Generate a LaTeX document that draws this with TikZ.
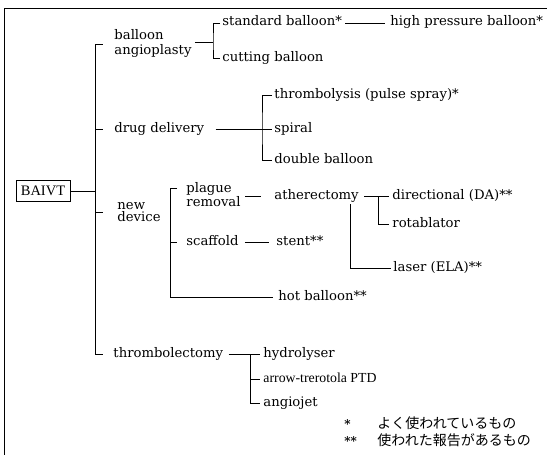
\documentclass[tikz,border=0pt]{standalone}
\usepackage{fontspec}
\setmainfont{DejaVu Serif}
\newfontfamily\jpfont{Noto Sans CJK JP}
\newfontfamily\timesf{Liberation Serif}
\begin{document}
\begin{tikzpicture}[x=1pt,y=-1pt,line width=0.9pt,
  lbl/.style={anchor=west,inner sep=0pt,text height=9pt,text depth=3pt,font=\fontsize{13.2}{15}\selectfont},
  two/.style={anchor=west,inner sep=0pt,align=left,font=\fontsize{13.2}{15}\selectfont},
  tight/.style={anchor=west,inner sep=0pt,align=left,font=\fontsize{13.2}{12.5}\selectfont},
  rootbox/.style={draw,minimum width=54pt,minimum height=21pt,inner sep=0pt,font=\timesf\fontsize{14.5}{16}\selectfont},
  tnr/.style={lbl,font=\timesf\fontsize{13.8}{15}\selectfont},
  jp/.style={anchor=west,inner sep=0pt,font=\jpfont\fontsize{14}{16}\selectfont},
  star/.style={anchor=west,inner sep=0pt,font=\bfseries\fontsize{12}{14}\selectfont}]
\useasboundingbox (0,0) rectangle (547,455);
% frame (top and left edges)
\draw (4,455) -- (4,8) -- (547,8);
% nodes
\node[rootbox] (root) at (43,191) {BAIVT};
\node[two] (ba) at (114,43) {balloon\\angioplasty};
\node[lbl] (dd) at (114,129) {drug delivery};
\node[tight] (nd) at (117,212) {new\\device};
\node[lbl] (tb) at (113,354) {thrombolectomy};
\node[lbl] (sb) at (222,23) {standard balloon*};
\node[lbl] (hp) at (390,23) {high pressure balloon*};
\node[lbl] (cb) at (222,58) {cutting balloon};
\node[lbl] (ty) at (274,95) {thrombolysis (pulse spray)*};
\node[lbl] (sp) at (274,129) {spiral};
\node[lbl] (db) at (274,160) {double balloon};
\node[tight] (pr) at (186,195) {plague\\removal};
\node[lbl] (at) at (274,196) {atherectomy};
\node[lbl] (di) at (392,196) {directional (DA)**};
\node[lbl] (ro) at (392,224) {rotablator};
\node[lbl] (la) at (393,268) {laser (ELA)**};
\node[lbl] (sc) at (186,242) {scaffold};
\node[lbl] (st) at (276,242) {stent**};
\node[lbl] (hb) at (278,297) {hot balloon**};
\node[lbl] (hy) at (263,354) {hydrolyser};
\node[tnr] (ar) at (263,379) {arrow-trerotola PTD};
\node[lbl] (an) at (263,403) {angiojet};
\node[star] (s1) at (344,424) {*};
\node[jp] (j1) at (377,423) {よく使われているもの};
\node[star] (s2) at (344,441) {**};
\node[jp] (j2) at (377,440) {使われた報告があるもの};
% junction coordinates
\coordinate (T1) at (95,44);
\coordinate (T4) at (95,354);
\coordinate (B) at (213,42);
\coordinate (D) at (262,129);
\coordinate (N1) at (170,188);
\coordinate (N2) at (170,297);
\coordinate (A) at (378,196);
\coordinate (Lx) at (350,0);
\coordinate (H) at (250,354);
% trunk
\draw (root.east) -- (root.east -| T1);
\draw (T1) -- (T4);
\draw[shorten >=11pt] (T1) -- (ba.west |- T1);
\draw[shorten >=11pt] (T1 |- dd.west) -- (dd.west);
\draw[shorten >=14pt] (T1 |- nd.west) -- (nd.west);
\draw[shorten >=10pt] (T4) -- (tb.west);
% balloon angioplasty
\draw[shorten <=3pt] (ba.east |- B) -- (B);
\draw[shorten <=2pt,shorten >=2pt] (sb.west) -| (B) |- (cb.west);
\draw[shorten <=3pt,shorten >=5pt] (sb.east) -- (hp.west);
% drug delivery
\draw[shorten <=11pt] (dd.east |- D) -- (D);
\draw[shorten <=2pt,shorten >=2pt] (ty.west) -| (D) |- (db.west);
\draw[shorten >=2pt] (D) -- (sp.west);
% new device
\draw[shorten <=9pt,shorten >=5pt] (pr.west |- N1) -- (N1) -- (N2) -- (hb.west);
\draw[shorten >=9pt] (sc.west -| N1) -- (sc.west);
\draw[shorten <=4pt,shorten >=13pt] (pr.east |- at.west) -- (at.west);
\draw[shorten <=6pt,shorten >=7pt] (sc.east) -- (st.west);
\draw[shorten <=5pt] (at.east |- A) -- (A);
\draw[shorten >=3pt] (A) -- (di.west);
\draw[shorten >=3pt] (A) |- (ro.west);
\draw[shorten <=2pt,shorten >=2pt] (at.south -| Lx) |- (la.west);
% thrombolectomy
\draw[shorten <=5pt,shorten >=3pt] (tb.east) -- (hy.west);
\draw[shorten >=3pt] (H) |- (an.west);
\draw[shorten >=3pt] (H |- ar.west) -- (ar.west);
\end{tikzpicture}
\end{document}
